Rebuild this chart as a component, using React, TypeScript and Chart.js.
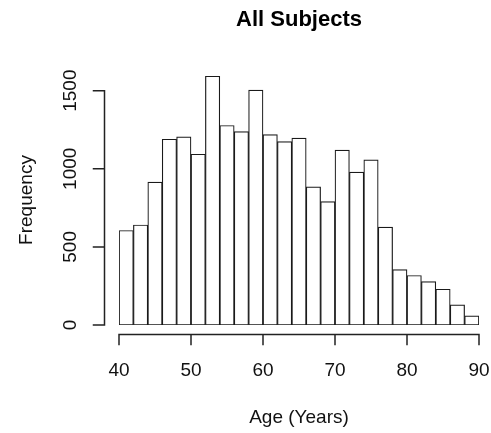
import React, { useEffect, useRef } from "react";
import { Chart, registerables } from "chart.js";

Chart.register(...registerables);

const binStarts = [40, 42, 44, 46, 48, 50, 52, 54, 56, 58, 60, 62, 64, 66, 68, 70, 72, 74, 76, 78, 80, 82, 84, 86, 88];
const counts = [605, 640, 914, 1189, 1204, 1093, 1592, 1277, 1238, 1503, 1219, 1174, 1196, 884, 790, 1119, 978, 1057, 626, 355, 317, 278, 229, 129, 59];
const binWidth = 2;
const xTicks = [40, 50, 60, 70, 80, 90];
const yTicks = [0, 500, 1000, 1500];
const title = "All Subjects";
const xLabel = "Age (Years)";
const yLabel = "Frequency";

const FONT = "'Liberation Sans', Arial, sans-serif";

const rAxesPlugin = {
  id: "rAxes",
  afterDraw(chart: any) {
    const ctx = chart.ctx;
    const xs = chart.scales.x;
    const ys = chart.scales.y;
    const area = chart.chartArea;
    ctx.save();
    ctx.strokeStyle = "#222";
    ctx.fillStyle = "#111";
    ctx.lineWidth = 1.5;
    ctx.lineCap = "square";

    // x axis
    const axY = area.bottom + 9.5;
    ctx.beginPath();
    ctx.moveTo(xs.getPixelForValue(xTicks[0]), axY);
    ctx.lineTo(xs.getPixelForValue(xTicks[xTicks.length - 1]), axY);
    xTicks.forEach((t) => {
      const px = xs.getPixelForValue(t);
      ctx.moveTo(px, axY);
      ctx.lineTo(px, axY + 10);
    });
    ctx.stroke();
    ctx.font = `19px ${FONT}`;
    ctx.textAlign = "center";
    ctx.textBaseline = "middle";
    xTicks.forEach((t) => {
      ctx.fillText(String(t), xs.getPixelForValue(t), axY + 36);
    });

    // y axis
    const axX = area.left - 14.5;
    ctx.beginPath();
    ctx.moveTo(axX, ys.getPixelForValue(yTicks[0]));
    ctx.lineTo(axX, ys.getPixelForValue(yTicks[yTicks.length - 1]));
    yTicks.forEach((t) => {
      const py = ys.getPixelForValue(t);
      ctx.moveTo(axX, py);
      ctx.lineTo(axX - 11, py);
    });
    ctx.stroke();
    yTicks.forEach((t) => {
      ctx.save();
      ctx.translate(axX - 34, ys.getPixelForValue(t));
      ctx.rotate(-Math.PI / 2);
      ctx.fillText(String(t), 0, 0);
      ctx.restore();
    });

    // axis titles
    const cx = (area.left + area.right) / 2;
    const cy = (area.top + area.bottom) / 2;
    ctx.fillText(xLabel, cx, axY + 83);
    ctx.save();
    ctx.translate(27, cy);
    ctx.rotate(-Math.PI / 2);
    ctx.fillText(yLabel, 0, 0);
    ctx.restore();

    // main title
    ctx.font = `bold 22px ${FONT}`;
    ctx.fillStyle = "#000";
    ctx.fillText(title, cx, 20);
    ctx.restore();
  },
};

export default function App() {
  const canvasRef = useRef<HTMLCanvasElement | null>(null);

  useEffect(() => {
    if (!canvasRef.current) return;
    const data = binStarts.map((s, i) => ({ x: s + binWidth / 2, y: counts[i] }));
    const chart = new Chart(canvasRef.current, {
      type: "bar",
      data: {
        datasets: [
          {
            data: data as any,
            backgroundColor: "#ffffff",
            borderColor: "#1a1a1a",
            borderWidth: 1.2,
            borderSkipped: false,
            barPercentage: 1,
            categoryPercentage: 1,
          },
        ],
      },
      options: {
        animation: false,
        responsive: false,
        devicePixelRatio: 1,
        layout: { padding: { left: 119, right: 12, top: 75, bottom: 108 } },
        scales: {
          x: { type: "linear", min: 40, max: 90, offset: false, display: false },
          y: { type: "linear", min: 0, max: 1600, display: false },
        },
        plugins: {
          legend: { display: false },
          tooltip: { enabled: false },
          title: { display: false },
        },
      },
      plugins: [rAxesPlugin],
    });
    return () => chart.destroy();
  }, []);

  return (
    <div style={{ position: "absolute", left: 0, top: 0, width: 491, height: 433, background: "#fff" }}>
      <canvas ref={canvasRef} width={491} height={433} />
    </div>
  );
}
